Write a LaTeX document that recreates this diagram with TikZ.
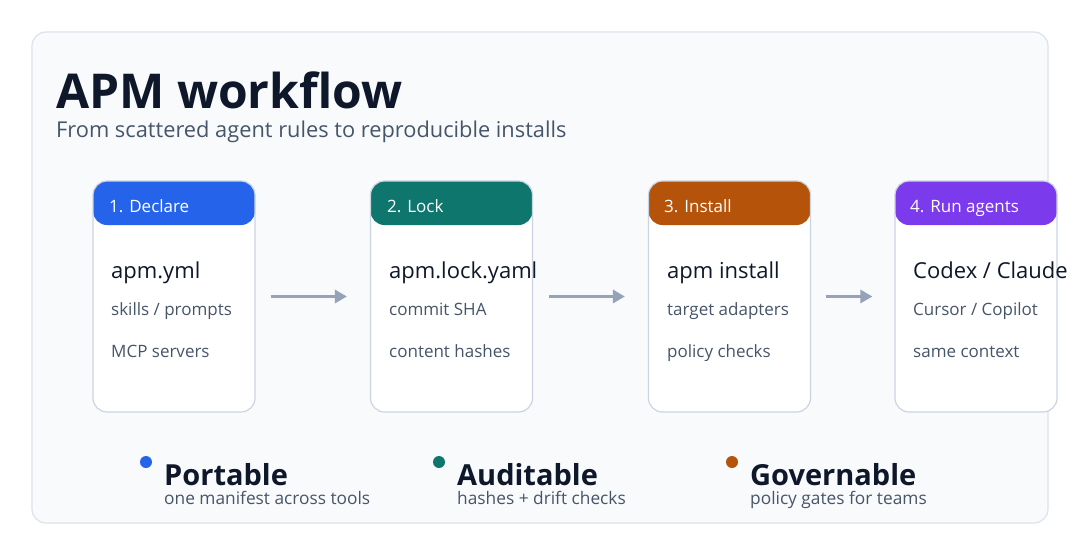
\documentclass[tikz,border=0pt]{standalone}
\usepackage{fontspec}
\setmainfont{Open Sans}
\usetikzlibrary{arrows.meta}
\definecolor{panelfill}{HTML}{F8FAFC}
\definecolor{panelline}{HTML}{DCE3EC}
\definecolor{cardline}{HTML}{CBD5E1}
\definecolor{ink}{HTML}{0F172A}
\definecolor{sub}{HTML}{475569}
\definecolor{arrowc}{HTML}{94A3B8}
\definecolor{cblue}{HTML}{2563EB}
\definecolor{cteal}{HTML}{0F766E}
\definecolor{corange}{HTML}{B45309}
\definecolor{cpurple}{HTML}{7C3AED}
\tikzset{
  card/.style={draw=cardline, line width=1.2pt, fill=white, rounded corners=14pt,
    minimum width=162pt, minimum height=231pt, inner sep=0pt,
    path picture={\fill[#1] ([yshift=2pt]path picture bounding box.north west) rectangle ([yshift=-44pt]path picture bounding box.north east);}},
  head/.style={anchor=base west, text=white, font=\fontsize{17}{20}\selectfont, inner sep=0pt},
  mainl/.style={anchor=base west, text=ink, font=\fontsize{22}{26}\selectfont, inner sep=0pt},
  subl/.style={anchor=base west, text=sub, font=\fontsize{17}{20}\selectfont, inner sep=0pt},
  arr/.style={draw=arrowc, line width=3pt, -{Triangle[length=12pt,width=13pt]}},
  dot/.style={circle, fill=#1, minimum size=12pt, inner sep=0pt},
  feat/.style={anchor=base west, text=ink, font=\fontsize{29}{34}\selectfont\bfseries, inner sep=0pt},
  featsub/.style={anchor=base west, text=sub, font=\fontsize{17.3}{20}\selectfont, inner sep=0pt},
}
\begin{document}
\begin{tikzpicture}[x=1pt,y=-1pt]
\useasboundingbox (0,0) rectangle (1080,555);
\fill[white] (0,0) rectangle (1080,555);
\node[draw=panelline, fill=panelfill, line width=1.2pt, rounded corners=14pt, minimum width=1016pt, minimum height=491pt, inner sep=0pt] (panel) at (540,277.5) {};
\node[anchor=base west, text=ink, font=\fontsize{48}{54}\selectfont\bfseries, inner sep=0pt] (title) at (56,108) {APM workflow};
\node[anchor=base west, text=sub, font=\fontsize{21.8}{25}\selectfont, inner sep=0pt] (subtitle) at (56,137) {From scattered agent rules to reproducible installs};
% cards
\node[card=cblue] (c1) at (174,296.5) {};
\node[card=cteal] (c2) at (451.5,296.5) {};
\node[card=corange] (c3) at (729.5,296.5) {};
\node[card=cpurple] (c4) at (976,296.5) {};
% card 1
\node[head] (h1) at (109,212) {1. Declare};
\node[mainl] (m1) at (111,278) {apm.yml};
\node[subl] (s1a) at (111,315) {skills / prompts};
\node[subl] (s1b) at (111,357) {MCP servers};
% card 2
\node[head] (h2) at (387,212) {2. Lock};
\node[mainl] (m2) at (389,278) {apm.lock.yaml};
\node[subl] (s2a) at (389,315) {commit SHA};
\node[subl] (s2b) at (389,357) {content hashes};
% card 3
\node[head] (h3) at (664,212) {3. Install};
\node[mainl] (m3) at (667,278) {apm install};
\node[subl] (s3a) at (667,315) {target adapters};
\node[subl] (s3b) at (667,357) {policy checks};
% card 4
\node[head] (h4) at (910,212) {4. Run agents};
\node[mainl] (m4) at (913,278) {Codex / Claude};
\node[subl] (s4a) at (913,315) {Cursor / Copilot};
\node[subl] (s4b) at (913,357) {same context};
% arrows
\draw[arr] ([xshift=15pt]c1.east) -- ([xshift=-23pt]c2.west);
\draw[arr] ([xshift=16pt]c2.east) -- ([xshift=-23pt]c3.west);
\draw[arr] ([xshift=15pt]c3.east) -- ([xshift=-22pt]c4.west);
% features
\node[dot=cblue] (d1) at (146,462) {};
\node[feat] (f1) at (164,485) {Portable};
\node[featsub] (g1) at (164,504) {one manifest across tools};
\node[dot=cteal] (d2) at (439,462) {};
\node[feat] (f2) at (457,485) {Auditable};
\node[featsub] (g2) at (457,504) {hashes + drift checks};
\node[dot=corange] (d3) at (732,462) {};
\node[feat] (f3) at (750,485) {Governable};
\node[featsub] (g3) at (750,504) {policy gates for teams};
\end{tikzpicture}
\end{document}
